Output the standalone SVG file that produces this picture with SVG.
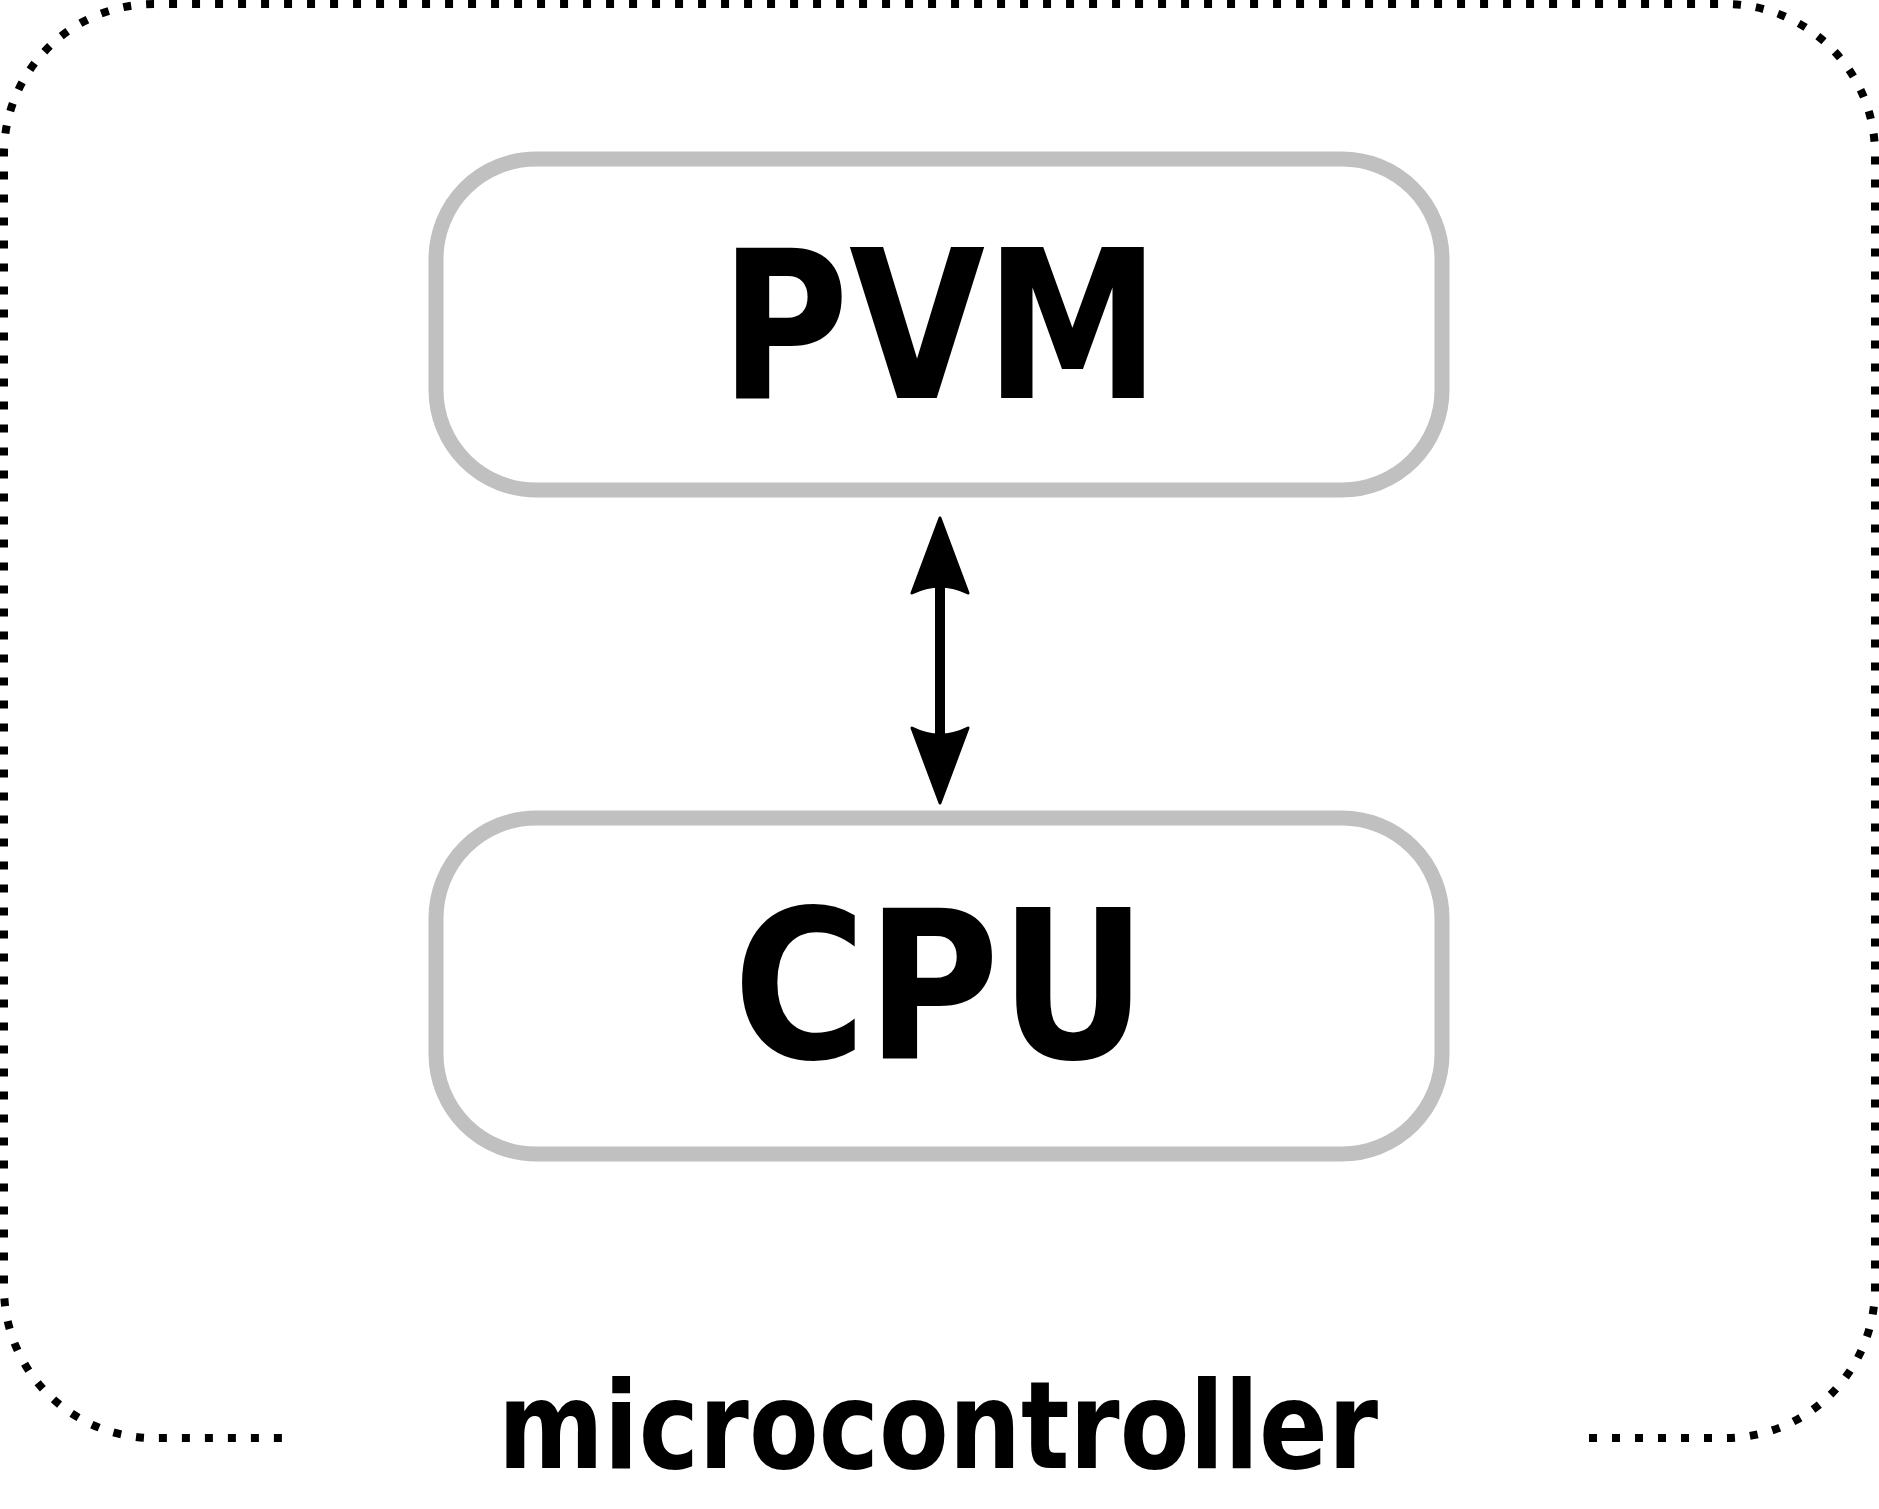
<svg xmlns="http://www.w3.org/2000/svg" width="1879" height="1509" viewBox="0 0 1879 1509">
<style>
.box{fill:#fff;stroke:#c0c0c0;stroke-width:15}
.lbl{font-family:"DejaVu Sans","Verdana",sans-serif;font-weight:bold;fill:#000;text-anchor:middle}
.border{fill:none;stroke:#000;stroke-width:8;stroke-dasharray:8 15}
.conn{stroke:#000;stroke-width:10;fill:none}
</style>
<defs>
<marker id="head" markerUnits="userSpaceOnUse" markerWidth="80" markerHeight="62" viewBox="0 0 80 62" refX="15" refY="31" orient="auto-start-reverse">
<path d="M2 3 Q16 31 2 59 L77 31 Z" fill="#000" stroke="#000" stroke-width="3" stroke-linejoin="round"/>
</marker>
</defs>
<rect width="1879" height="1509" fill="#fff"/>
<g id="microcontroller">
<path class="border" d="M1589 1438 H1725 A150 150 0 0 0 1875 1288 V154 A150 150 0 0 0 1725 4 H154 A150 150 0 0 0 4 154 V1288 A150 150 0 0 0 154 1438 H291"/>
<text class="lbl" x="938" y="1468" font-size="122" textLength="880" lengthAdjust="spacingAndGlyphs">microcontroller</text>
</g>
<g id="pvm">
<rect class="box" x="436" y="159" width="1006" height="331" rx="100" ry="100"/>
<text class="lbl" x="940" y="398" font-size="206" textLength="440" lengthAdjust="spacingAndGlyphs">PVM</text>
</g>
<g id="cpu">
<rect class="box" x="436" y="818" width="1006" height="336" rx="100" ry="100"/>
<text class="lbl" x="940" y="1058" font-size="206" textLength="414" lengthAdjust="spacingAndGlyphs">CPU</text>
</g>
<g id="connectors">
<line class="conn" x1="940" y1="580" x2="940" y2="741" marker-start="url(#head)" marker-end="url(#head)"/>
</g>
</svg>
